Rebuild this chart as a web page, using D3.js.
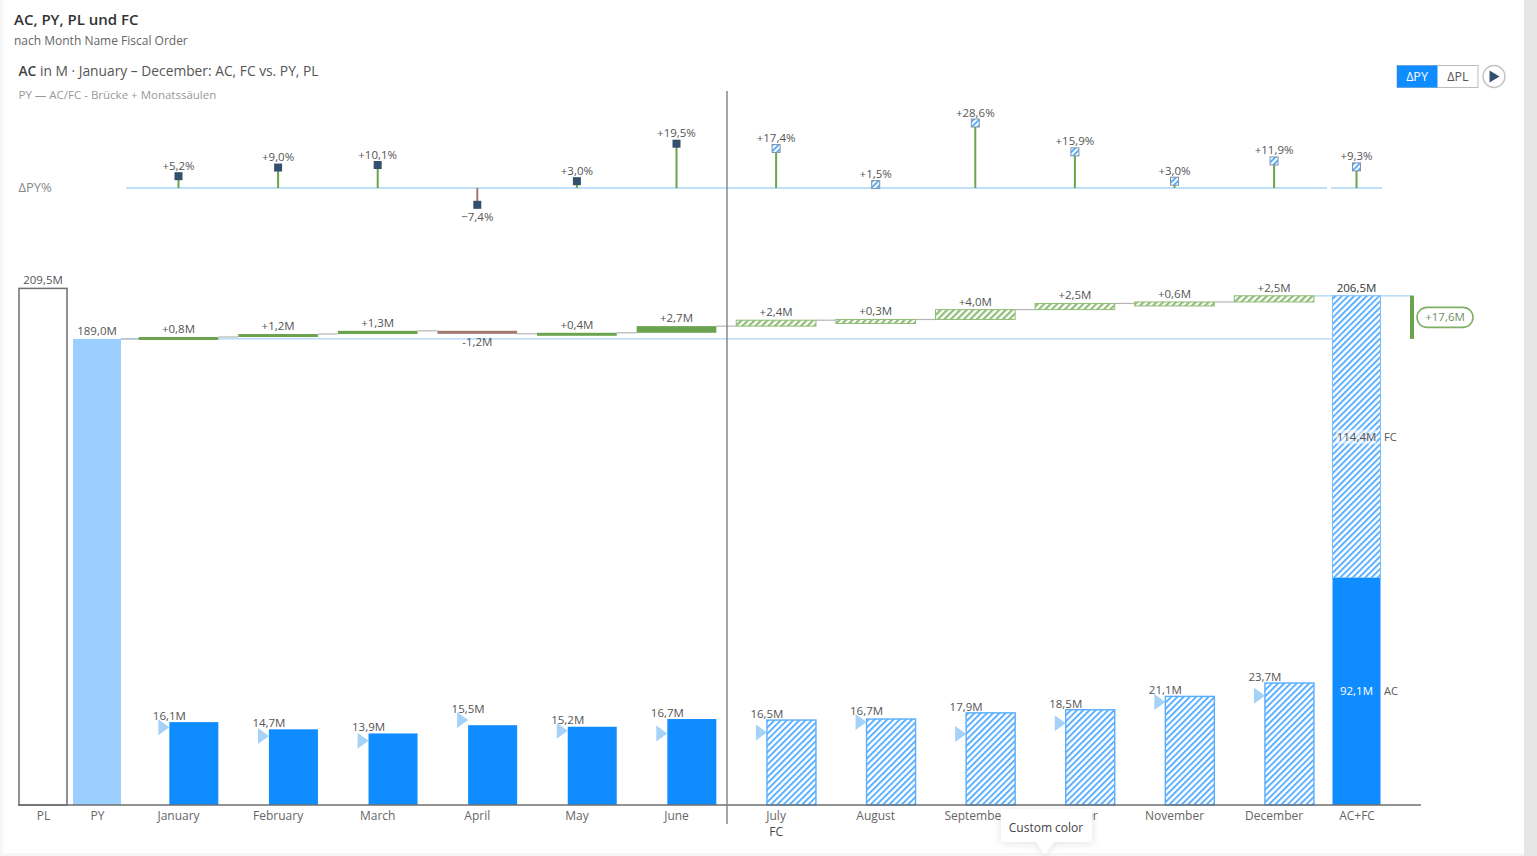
<!DOCTYPE html>
<html>
<head>
<meta charset="utf-8">
<script src="https://cdn.jsdelivr.net/npm/d3@7"></script>
<style>
  html, body { margin: 0; padding: 0; background: #fff; overflow: hidden; }
  text { font-family: "Open Sans", "Noto Sans", sans-serif; }
</style>
</head>
<body>
<div id="chart"></div>
<script>
// values
var months = ["January", "February", "March", "April", "May", "June", "July", "August", "September", "October", "November", "December"];
var actualMonths = ["January", "February", "March", "April", "May", "June"];
var monthValues = [16.1, 14.7, 13.9, 15.5, 15.2, 16.7, 16.5, 16.7, 17.9, 18.5, 21.1, 23.7];
var pyMonthValues = [15.1, 13.4, 12.5, 16.5, 14.4, 13.9, 14.1, 16.1, 13.8, 15.9, 20.0, 21.2];
var deltaValues = [0.8, 1.2, 1.3, -1.2, 0.4, 2.7, 2.4, 0.3, 4.0, 2.5, 0.6, 2.5];
var deltaPct = [5.2, 9.0, 10.1, -7.4, 3.0, 19.5, 17.4, 1.5, 28.6, 15.9, 3.0, 11.9];
var totalCategories = ["PL", "PY", "AC+FC"];
var plTotal = 209.5;
var pyTotal = 189.0;
var acTotal = 92.1;
var fcTotal = 114.4;
var acFcTotal = 206.5;
var totalPct = 9.3;
var totalDeltaLabel = "+17,6M";

var blue = "#0f8cff", lightBlue = "#9bcfff", hatchBlue = "#58aeff", refBlue = "#a9d6f8";
var green = "#6ba34f", brown = "#a3786c", navy = "#34506e", grey = "#666";

var svg = d3.select("#chart").append("svg")
  .attr("width", 1537)
  .attr("height", 856);

var defs = svg.append("defs");
function hatch(id, color, size, w) {
  var p = defs.append("pattern")
    .attr("id", id)
    .attr("patternUnits", "userSpaceOnUse")
    .attr("width", size)
    .attr("height", size)
    .attr("patternTransform", "rotate(45)");
  p.append("rect").attr("width", size).attr("height", size).attr("fill", "#fff");
  p.append("rect").attr("width", w).attr("height", size).attr("fill", color);
}
hatch("hatchBlue", hatchBlue, 4.4, 1.9);
hatch("hatchGreen", "#8fbd77", 4.6, 2.2);
hatch("hatchMark", hatchBlue, 4, 2);

var shadow = defs.append("filter").attr("id", "shadow")
  .attr("x", "-20%").attr("y", "-20%").attr("width", "140%").attr("height", "150%");
shadow.append("feDropShadow")
  .attr("dx", 0).attr("dy", 1).attr("stdDeviation", 4)
  .attr("flood-color", "#000").attr("flood-opacity", 0.12);

// page frame
svg.append("rect").attr("x", 0).attr("y", 0).attr("width", 3).attr("height", 856).attr("fill", "#f6f6f6");
svg.append("rect").attr("x", 0).attr("y", 853).attr("width", 1524).attr("height", 3).attr("fill", "#f6f6f6");
svg.append("rect").attr("x", 1524).attr("y", 0).attr("width", 13).attr("height", 856).attr("fill", "#e6e6e6");

// scales
var baseY = 805;
var yMain = d3.scaleLinear().domain([0, plTotal]).range([baseY, 288.4]);
var yMonth = d3.scaleLinear().domain([0, 23.7]).range([baseY, 683]);
var yPct = d3.scaleLinear().domain([0, 28.6]).range([188, 123]);
var x = d3.scaleBand().domain(months).range([128.7, 1323.9]).paddingInner(0.2).paddingOuter(0.1);
var xTotal = d3.scaleOrdinal().domain(totalCategories).range([43, 97, 1356.5]);
var totalW = 48;

var loc = d3.formatLocale({ decimal: ",", thousands: ".", grouping: [3], currency: ["", "€"], minus: "−" });
var f1 = loc.format(".1f");
var fSigned = loc.format("+.1f");
function fmtM(v) { return f1(v) + "M"; }
function fmtDelta(v) { return fSigned(v).replace("−", "-") + "M"; }
function fmtPct(v) { return fSigned(v) + "%"; }
function isActual(m) { return actualMonths.indexOf(m) != -1; }

function label(g, tx, ty, str, color, size, anchor) {
  return g.append("text")
    .attr("x", tx)
    .attr("y", ty)
    .attr("dy", "0.35em")
    .attr("text-anchor", anchor || "middle")
    .attr("font-size", size || 11.5)
    .attr("fill", color || "#555")
    .text(str);
}

// titles
var head = svg.append("g");
label(head, 14, 20, "AC, PY, PL und FC", "#333", 15, "start").attr("font-weight", 600);
label(head, 14, 41, "nach Month Name Fiscal Order", "#666", 12, "start");
var sub = label(head, 18.5, 71.5, "", "#555", 13.8, "start");
sub.append("tspan").attr("font-weight", 600).attr("fill", "#444").text("AC");
sub.append("tspan").text(" in M · January – December: AC, FC vs. PY, PL");
label(head, 18.5, 95, "PY — AC/FC - Brücke + Monatssäulen", "#999", 11.5, "start");
label(head, 18.5, 187.5, "ΔPY%", "#888", 13, "start");

// delta-% pins
var pinData = months.map(function(m, i) {
  return { name: m, x: x(m) + x.bandwidth() / 2, v: deltaPct[i], ac: isActual(m) };
});
pinData.push({ name: "AC+FC", x: xTotal("AC+FC"), v: totalPct, ac: false });

var pins = svg.append("g");
pins.append("line").attr("x1", 126).attr("x2", 1327).attr("y1", yPct(0)).attr("y2", yPct(0))
  .attr("stroke", refBlue).attr("stroke-width", 1.6);
pins.append("line").attr("x1", 1331).attr("x2", 1382).attr("y1", yPct(0)).attr("y2", yPct(0))
  .attr("stroke", refBlue).attr("stroke-width", 1.6);

pins.selectAll(".stem").data(pinData).enter().append("line")
  .attr("class", "stem")
  .attr("x1", function(d) { return d.x; })
  .attr("x2", function(d) { return d.x; })
  .attr("y1", yPct(0))
  .attr("y2", function(d) { return yPct(d.v); })
  .attr("stroke", function(d) { return d.v < 0 ? brown : green; })
  .attr("stroke-width", 2);

pins.selectAll(".mark").data(pinData).enter().append("rect")
  .attr("class", "mark")
  .attr("x", function(d) { return d.x - 4; })
  .attr("y", function(d) { return yPct(d.v) - 4; })
  .attr("width", 8)
  .attr("height", 8)
  .attr("fill", function(d) { return d.ac ? navy : "url(#hatchMark)"; })
  .attr("stroke", function(d) { return d.ac ? "none" : "#7f93a8"; })
  .attr("stroke-width", 1);

pinData.forEach(function(d) {
  label(pins, d.x, yPct(d.v) + (d.v < 0 ? 12 : -10.5), fmtPct(d.v));
});

// reference lines behind the bridge
var bridge = svg.append("g");
bridge.append("line").attr("x1", xTotal("PY") + totalW / 2).attr("x2", xTotal("AC+FC") - totalW / 2)
  .attr("y1", yMain(pyTotal)).attr("y2", yMain(pyTotal))
  .attr("stroke", refBlue).attr("stroke-width", 1.2);
bridge.append("line").attr("x1", x("December") + x.bandwidth()).attr("x2", 1414)
  .attr("y1", yMain(acFcTotal)).attr("y2", yMain(acFcTotal))
  .attr("stroke", refBlue).attr("stroke-width", 1.2);

// bridge bars with connectors
var running = Array.from(d3.cumsum(deltaValues), function(c) { return c + pyTotal; });
var bridgeData = months.map(function(m, i) {
  return { name: m, v: deltaValues[i], start: i == 0 ? pyTotal : running[i - 1], end: running[i], ac: isActual(m) };
});

bridge.selectAll(".conn").data(bridgeData).enter().append("line")
  .attr("class", "conn")
  .attr("x1", function(d, i) { return i == 0 ? xTotal("PY") + totalW / 2 : x(months[i - 1]) + x.bandwidth(); })
  .attr("x2", function(d) { return x(d.name); })
  .attr("y1", function(d) { return yMain(d.start); })
  .attr("y2", function(d) { return yMain(d.start); })
  .attr("stroke", "#b5b5b5")
  .attr("stroke-width", 1.2);

// very small changes still get a visible bar
bridge.selectAll(".delta").data(bridgeData).enter().append("rect")
  .attr("class", "delta")
  .attr("x", function(d) { return x(d.name); })
  .attr("width", x.bandwidth())
  .attr("y", function(d) { return yMain(Math.max(d.start, d.end)); })
  .attr("height", function(d) { return Math.max(Math.abs(yMain(d.start) - yMain(d.end)), d.ac ? 3 : 4); })
  .attr("fill", function(d) { return d.ac ? (d.v < 0 ? brown : green) : "url(#hatchGreen)"; })
  .attr("stroke", function(d) { return d.ac ? "none" : "#8fbd77"; })
  .attr("stroke-width", 1);

bridgeData.forEach(function(d) {
  var cx = x(d.name) + x.bandwidth() / 2;
  if (d.v < 0) label(bridge, cx, yMain(d.end) + 8.5, fmtDelta(d.v));
  else label(bridge, cx, yMain(d.end) - 8, fmtDelta(d.v));
});

// monthly columns
var barW = 49;
var monthData = months.map(function(m, i) {
  return { name: m, v: monthValues[i], py: pyMonthValues[i], ac: isActual(m) };
});
var cols = svg.append("g");
cols.selectAll(".col").data(monthData).enter().append("rect")
  .attr("class", "col")
  .attr("x", function(d) { return x(d.name) + x.bandwidth() - barW; })
  .attr("width", barW)
  .attr("y", function(d) { return yMonth(d.v); })
  .attr("height", function(d) { return baseY - yMonth(d.v); })
  .attr("fill", function(d) { return d.ac ? blue : "url(#hatchBlue)"; })
  .attr("stroke", function(d) { return d.ac ? "none" : hatchBlue; })
  .attr("stroke-width", 1.4);

cols.selectAll(".pyMark").data(monthData).enter().append("path")
  .attr("class", "pyMark")
  .attr("d", function(d) {
    var tip = x(d.name) + x.bandwidth() - barW, my = yMonth(d.py);
    return "M" + tip + "," + my + "L" + (tip - 11) + "," + (my - 8) + "L" + (tip - 11) + "," + (my + 8) + "Z";
  })
  .attr("fill", "#a6d2f7");

monthData.forEach(function(d) {
  var lx = x(d.name) + x.bandwidth() - barW;
  var ly = Math.min(yMonth(d.v), yMonth(d.py) - 5) - 6;
  label(cols, lx, ly, fmtM(d.v));
});

// PL, PY and the AC+FC stack
var totals = svg.append("g");
totals.append("rect").attr("x", xTotal("PL") - totalW / 2).attr("width", totalW)
  .attr("y", yMain(plTotal)).attr("height", baseY - yMain(plTotal))
  .attr("fill", "#fff").attr("stroke", "#6e6e6e").attr("stroke-width", 1.5);
totals.append("rect").attr("x", xTotal("PY") - totalW / 2).attr("width", totalW)
  .attr("y", yMain(pyTotal)).attr("height", baseY - yMain(pyTotal))
  .attr("fill", lightBlue);
totals.append("rect").attr("x", xTotal("AC+FC") - totalW / 2).attr("width", totalW)
  .attr("y", yMain(acFcTotal)).attr("height", yMain(acTotal) - yMain(acFcTotal))
  .attr("fill", "url(#hatchBlue)").attr("stroke", "#7dc0ff").attr("stroke-width", 1);
totals.append("rect").attr("x", xTotal("AC+FC") - totalW / 2).attr("width", totalW)
  .attr("y", yMain(acTotal)).attr("height", baseY - yMain(acTotal))
  .attr("fill", blue);

label(totals, xTotal("PL"), yMain(plTotal) - 8, fmtM(plTotal));
label(totals, xTotal("PY"), yMain(pyTotal) - 8, fmtM(pyTotal));
label(totals, xTotal("AC+FC"), yMain(acFcTotal) - 8, fmtM(acFcTotal), "#333");

var fcMid = (yMain(acFcTotal) + yMain(acTotal)) / 2;
var acMid = (yMain(acTotal) + baseY) / 2;
totals.append("rect").attr("x", xTotal("AC+FC") - 20).attr("y", fcMid - 7).attr("width", 40).attr("height", 14).attr("fill", "#fff").attr("opacity", 0.55);
label(totals, xTotal("AC+FC"), fcMid, fmtM(fcTotal));
label(totals, xTotal("AC+FC"), acMid, fmtM(acTotal), "#fff");
label(totals, 1384, fcMid, "FC", "#555", 11, "start");
label(totals, 1384, acMid, "AC", "#555", 11, "start");

// total delta bracket
totals.append("rect").attr("x", 1410).attr("width", 4)
  .attr("y", yMain(acFcTotal)).attr("height", yMain(pyTotal) - yMain(acFcTotal))
  .attr("fill", green);
var pillY = (yMain(acFcTotal) + yMain(pyTotal)) / 2;
totals.append("rect").attr("x", 1417).attr("y", pillY - 10).attr("width", 56).attr("height", 20).attr("rx", 10)
  .attr("fill", "#fff").attr("stroke", "#7fb065").attr("stroke-width", 1.6);
label(totals, 1445, pillY, totalDeltaLabel, "#6f8f5f");

// axes
var axisMonths = svg.append("g")
  .attr("transform", "translate(0," + baseY + ")")
  .call(d3.axisBottom(x).tickSize(0).tickPadding(6));
axisMonths.select(".domain").remove();
axisMonths.selectAll("text").attr("font-size", 12).attr("fill", grey).style("font-family", '"Open Sans", sans-serif');

var axisTotals = svg.append("g")
  .attr("transform", "translate(0," + baseY + ")")
  .call(d3.axisBottom(d3.scaleOrdinal().domain(totalCategories).range(xTotal.range())).tickSize(0).tickPadding(6));
axisTotals.select(".domain").remove();
axisTotals.selectAll("text").attr("font-size", 12).attr("fill", grey).style("font-family", '"Open Sans", sans-serif');

svg.append("line").attr("x1", 18).attr("x2", 1421).attr("y1", baseY).attr("y2", baseY)
  .attr("stroke", "#6e6e6e").attr("stroke-width", 1.5);
svg.append("line").attr("x1", 727).attr("x2", 727).attr("y1", 91).attr("y2", 824)
  .attr("stroke", "#808080").attr("stroke-width", 1.4);
label(svg, x("July") + x.bandwidth() / 2, 832, "FC", "#444", 12);

// delta switch and play button
var ctl = svg.append("g");
ctl.append("rect").attr("x", 1397).attr("y", 65.5).attr("width", 81).attr("height", 22).attr("fill", "#fff").attr("stroke", "#bdbdbd");
ctl.append("rect").attr("x", 1397).attr("y", 65.5).attr("width", 40.5).attr("height", 22).attr("fill", blue);
label(ctl, 1417, 76.5, "ΔPY", "#fff", 12.5);
label(ctl, 1458, 76.5, "ΔPL", "#555", 12.5);
ctl.append("circle").attr("cx", 1494).attr("cy", 76.5).attr("r", 11).attr("fill", "#fff").attr("stroke", "#c4c4c4").attr("stroke-width", 1.4);
ctl.append("path").attr("d", "M1489.5,70.5L1499.5,76.5L1489.5,82.5Z").attr("fill", navy);

// tooltip
var tip = svg.append("g");
tip.append("path")
  .attr("d", "M1001,809H1092V842H1054L1045,854L1036,842H1001Z")
  .attr("fill", "#fff")
  .attr("filter", "url(#shadow)");
label(tip, 1046, 827.5, "Custom color", "#444", 12);
</script>
</body>
</html>
